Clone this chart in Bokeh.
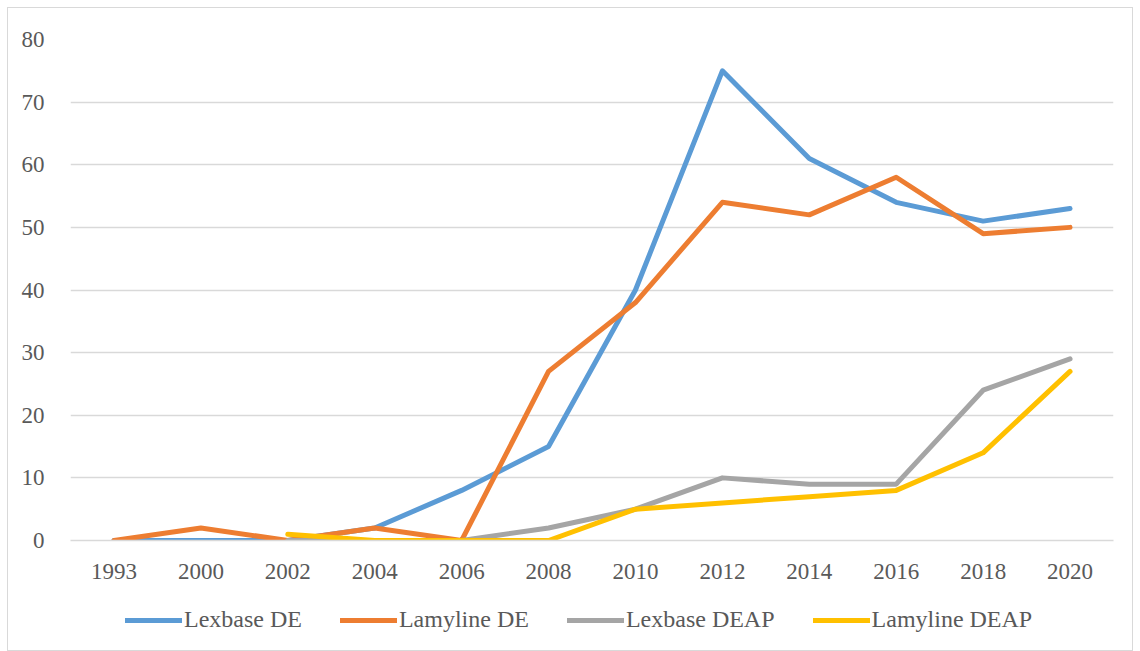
import math
from bokeh.plotting import figure
from bokeh.layouts import column
from bokeh.models import Range1d, FactorRange, Legend, LegendItem, SingleIntervalTicker, ColumnDataSource
from bokeh.embed import file_html
from bokeh.resources import INLINE

years = ["1993", "2000", "2002", "2004", "2006", "2008", "2010", "2012", "2014", "2016", "2018", "2020"]
lexbase_de = [0, 0, 0, 2, 8, 15, 40, 75, 61, 54, 51, 53]
lamyline_de = [0, 2, 0, 2, 0, 27, 38, 54, 52, 58, 49, 50]
lexbase_deap = [None, None, 0, 0, 0, 2, 5, 10, 9, 9, 24, 29]
lamyline_deap = [None, None, 1, 0, 0, 0, 5, 6, 7, 8, 14, 27]

series = [
    ("Lexbase DE", lexbase_de, "#5B9BD5"),
    ("Lamyline DE", lamyline_de, "#ED7D31"),
    ("Lexbase DEAP", lexbase_deap, "#A5A5A5"),
    ("Lamyline DEAP", lamyline_deap, "#FFC000"),
]

FONT = "Liberation Serif"
TXT = "#595959"
GRID = "#D9D9D9"

p = figure(frame_width=1043, frame_height=501, x_range=FactorRange(*years), y_range=Range1d(0, 80),
           output_backend="svg", toolbar_location=None,
           min_border_left=62, min_border_top=31, min_border_right=19, min_border_bottom=50)
p.outline_line_color = None
p.background_fill_color = "white"
p.border_fill_color = "white"

p.xgrid.grid_line_color = None
p.ygrid.grid_line_color = GRID
p.ygrid.grid_line_width = 1.3
p.yaxis.ticker = SingleIntervalTicker(interval=10)

for ax in (p.xaxis[0], p.yaxis[0]):
    ax.major_tick_line_color = None
    ax.minor_tick_line_color = None
    ax.major_label_text_font = FONT
    ax.major_label_text_font_size = "23px"
    ax.major_label_text_color = TXT
p.yaxis.axis_line_color = None
p.yaxis.major_label_standoff = 20
p.xaxis.axis_line_color = GRID
p.xaxis.axis_line_width = 1.3
p.xaxis.major_label_standoff = 17

# legend strip below the chart (same data, drawn out of its visible y range)
p2 = figure(width=1124, height=60, x_range=p.x_range, y_range=Range1d(1000, 1001),
            output_backend="svg", toolbar_location=None,
            x_axis_location=None, y_axis_location=None, min_border=0)
p2.grid.visible = False
p2.outline_line_color = None
p2.background_fill_color = "white"
p2.border_fill_color = "white"

items = []
for name, vals, color in series:
    ys = [float("nan") if v is None else v for v in vals]
    src = ColumnDataSource(dict(x=years, y=ys))
    p.line("x", "y", source=src, line_color=color, line_width=5,
           line_join="round", line_cap="round")
    r = p2.line("x", "y", source=src, line_color=color, line_width=5,
                line_join="round", line_cap="round")
    items.append(LegendItem(label=name, renderers=[r]))

legend = Legend(items=items, orientation="horizontal", location=(55, 17),
                label_text_font=FONT, label_text_font_size="24px", label_text_color=TXT,
                glyph_width=57, glyph_height=20, label_standoff=2, spacing=38,
                border_line_color=None, background_fill_alpha=0, margin=0, padding=4)
p2.add_layout(legend, "center")

layout = column(p, p2, spacing=0, margin=(7, 0, 0, 7),
                styles={"border": "1px solid #D9D9D9", "background-color": "white"})

open("out.html", "w").write(file_html(layout, INLINE))
